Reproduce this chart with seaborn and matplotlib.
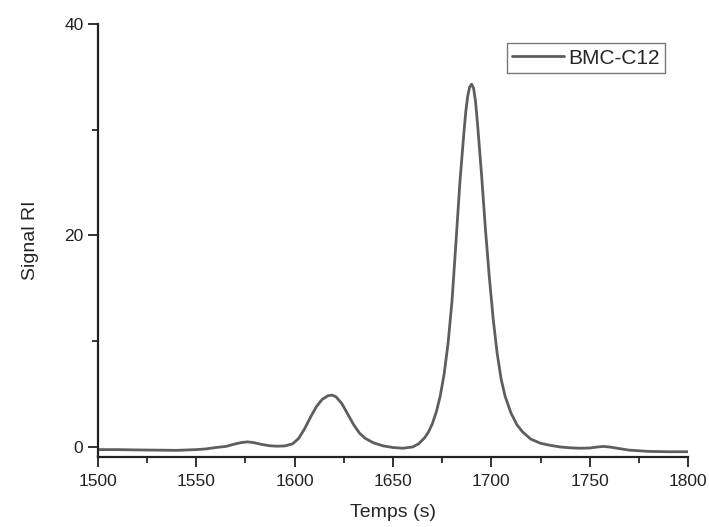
import matplotlib
matplotlib.use("Agg")
import matplotlib.pyplot as plt
import seaborn as sns
import pandas as pd
from matplotlib.ticker import MultipleLocator

# Chromatogramme BMC-C12
temps = [1500, 1510, 1520, 1530, 1540, 1550, 1555, 1560, 1565, 1570, 1573, 1576,
         1579, 1583, 1587, 1591, 1595, 1599, 1602, 1605, 1608, 1611, 1614, 1617,
         1619, 1621, 1624, 1627, 1630, 1633, 1636, 1640, 1645, 1650, 1655, 1660,
         1663, 1666, 1668, 1670, 1672, 1674, 1676, 1678, 1680, 1682, 1684, 1686,
         1687, 1688, 1689, 1690, 1691, 1692, 1693, 1695, 1697, 1699, 1701, 1703,
         1705, 1707, 1710, 1713, 1716, 1720, 1725, 1730, 1735, 1740, 1745, 1750,
         1754, 1757, 1760, 1765, 1770, 1780, 1790, 1800]
signal = [-0.25, -0.25, -0.28, -0.30, -0.32, -0.25, -0.18, -0.05, 0.05, 0.30, 0.42, 0.48,
          0.42, 0.25, 0.12, 0.07, 0.10, 0.30, 0.80, 1.70, 2.80, 3.80, 4.50, 4.85,
          4.90, 4.75, 4.10, 3.10, 2.10, 1.30, 0.80, 0.40, 0.10, -0.05, -0.12, 0.00,
          0.30, 0.85, 1.40, 2.20, 3.30, 4.80, 6.90, 9.80, 13.80, 19.30, 25.00, 29.60,
          31.70, 33.20, 34.05, 34.30, 33.90, 32.60, 30.50, 25.80, 20.60, 16.00, 12.00, 8.80,
          6.40, 4.80, 3.20, 2.10, 1.40, 0.75, 0.35, 0.15, 0.00, -0.08, -0.12, -0.10,
          0.00, 0.05, 0.00, -0.15, -0.30, -0.42, -0.45, -0.45]
serie = "BMC-C12"

df = pd.DataFrame({"temps": temps, "signal": signal})

sns.set_style("ticks")
plt.rcParams['font.family'] = ['Liberation Sans', 'DejaVu Sans']

fig = plt.figure(figsize=(7.09, 5.27), dpi=100)
ax = fig.add_axes([0.1382, 0.1328, 0.8322, 0.8218])

sns.lineplot(data=df, x="temps", y="signal", ax=ax, color="#5e5e5e",
             linewidth=2.0, label=serie)

ax.set_xlim(1500, 1800)
ax.set_ylim(-0.95, 40)
ax.xaxis.set_major_locator(MultipleLocator(50))
ax.xaxis.set_minor_locator(MultipleLocator(25))
ax.yaxis.set_major_locator(MultipleLocator(20))
ax.yaxis.set_minor_locator(MultipleLocator(10))
ax.tick_params(which='major', length=7, width=1.3, labelsize=12.5, colors='#222222')
ax.tick_params(which='minor', length=4.5, width=1.3)
ax.tick_params(axis='x', pad=5)
for s in ['left', 'bottom']:
    ax.spines[s].set_linewidth(1.6)
    ax.spines[s].set_color('#222222')
sns.despine(ax=ax)

ax.set_xlabel("Temps (s)", fontsize=14, labelpad=11)
ax.set_ylabel("Signal RI", fontsize=14, labelpad=18)

leg = ax.legend(loc='upper right', bbox_to_anchor=(0.961, 0.955), borderaxespad=0,
                fancybox=False, edgecolor='#777777', framealpha=1, fontsize=15,
                handlelength=2.5, handletextpad=0.2, borderpad=0.25)
leg.get_frame().set_linewidth(1.0)

fig.savefig("out.png", dpi=100)
